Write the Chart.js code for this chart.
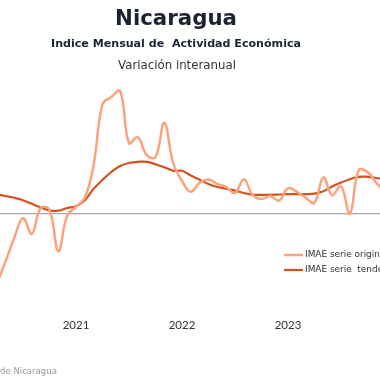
<!DOCTYPE html>
<html>
<head>
<meta charset="utf-8">
<script src="https://cdn.jsdelivr.net/npm/chart.js"></script>
<style>
html,body{margin:0;padding:0;background:#fff;}
#wrap{width:380px;height:380px;position:relative;}
</style>
</head>
<body>
<div id="wrap"><canvas id="c" width="380" height="380"></canvas></div>
<script>
const months = ['2020-04','2020-05','2020-06','2020-07','2020-08','2020-09','2020-10','2020-11','2020-12',
 '2021-01','2021-02','2021-03','2021-04','2021-05','2021-06','2021-07','2021-08','2021-09','2021-10','2021-11','2021-12',
 '2022-01','2022-02','2022-03','2022-04','2022-05','2022-06','2022-07','2022-08','2022-09','2022-10','2022-11','2022-12',
 '2023-01','2023-02','2023-03','2023-04','2023-05','2023-06','2023-07','2023-08','2023-09','2023-10','2023-11','2023-12'];
const original = [-11.8,-8.0,-4.0,-0.7,-3.3,1.0,0.7,-6.2,-0.3,
 1.2,2.7,8.2,18.3,19.5,20.5,11.8,12.8,9.8,9.5,15.2,8.5,
 5.5,3.7,5.2,5.75,5.0,4.5,3.5,5.8,3.2,2.5,3.0,2.25,
 4.3,3.7,2.7,1.9,6.1,3.1,4.7,0.0,7.3,7.0,5.2,3.7];
const trend = [3.3,3.0,2.7,2.3,1.7,1.1,0.6,0.55,1.0,
 1.3,2.3,4.2,5.7,7.0,8.0,8.5,8.7,8.7,8.3,7.8,7.2,
 7.2,6.4,5.7,5.0,4.5,4.2,3.9,3.5,3.2,3.2,3.2,3.25,
 3.3,3.3,3.3,3.4,3.8,4.6,5.25,5.8,6.2,6.2,6.0,5.8];
const yearTicks = [12, 24, 36];
const yearLabels = ['2021', '2022', '2023'];
const seriesLabels = ['IMAE serie original', 'IMAE serie  tendencia-ciclo'];

const monthIndex = months.map(s => { const [y, m] = s.split('-').map(Number); return (y - 2020) * 12 + (m - 1); });
const pts = arr => arr.map((v, i) => ({ x: monthIndex[i], y: v }));

const FONT = '"DejaVu Sans", sans-serif';
const TICKFONT = 'Lato, "DejaVu Sans", sans-serif';

function fitFont(ctx, text, weight, width) {
  ctx.font = weight + ' 20px ' + FONT;
  const w = ctx.measureText(text).width;
  const size = 20 * width / w;
  ctx.font = weight + ' ' + size.toFixed(2) + 'px ' + FONT;
}

const textPlugin = {
  id: 'texts',
  afterDraw(chart) {
    const ctx = chart.ctx;
    ctx.save();
    ctx.textAlign = 'center';
    ctx.textBaseline = 'middle';
    ctx.fillStyle = '#1c2233';
    fitFont(ctx, 'Nicaragua', 'bold', 122);
    ctx.fillText('Nicaragua', 176, 19);
    fitFont(ctx, 'Indice Mensual de  Actividad Económica', 'bold', 250);
    ctx.fillText('Indice Mensual de  Actividad Económica', 176, 44);
    ctx.fillStyle = '#333';
    fitFont(ctx, 'Variación interanual', 'normal', 118);
    ctx.fillText('Variación interanual', 177, 66);
    // footer
    ctx.textAlign = 'left';
    ctx.fillStyle = '#9a9a9a';
    fitFont(ctx, 'de Nicaragua', 'normal', 57);
    ctx.fillText('de Nicaragua', 0, 372);
    // legend
    fitFont(ctx, 'IMAE serie origin', 'normal', 75);
    ctx.fillStyle = '#333';
    chart.data.datasets.forEach((ds, i) => {
      const y = 255 + i * 15;
      ctx.strokeStyle = ds.borderColor;
      ctx.lineWidth = ds.borderWidth;
      ctx.beginPath();
      ctx.moveTo(284, y);
      ctx.lineTo(303, y);
      ctx.stroke();
      ctx.fillText(ds.label, 305, y);
    });
    ctx.restore();
  }
};

new Chart(document.getElementById('c'), {
  type: 'line',
  data: {
    datasets: [
      { label: seriesLabels[0], data: pts(original), borderColor: '#FCA27C', borderWidth: 2.5, pointRadius: 0, tension: 0.4, fill: false },
      { label: seriesLabels[1], data: pts(trend), borderColor: '#D4501F', borderWidth: 2.2, pointRadius: 0, tension: 0.4, fill: false }
    ]
  },
  options: {
    responsive: false,
    animation: false,
    events: [],
    layout: { padding: { top: 80, left: 0, right: 0, bottom: 0 } },
    plugins: { legend: { display: false }, title: { display: false }, tooltip: { enabled: false } },
    scales: {
      x: {
        type: 'linear',
        min: 30 / 8.833,
        max: 410 / 8.833,
        grid: { display: false, drawTicks: false },
        border: { display: false },
        afterBuildTicks: s => { s.ticks = yearTicks.map(v => ({ value: v })); },
        afterFit: s => { s.height = 68; },
        ticks: {
          autoSkip: false, maxRotation: 0, padding: 6,
          color: '#333', font: { family: TICKFONT, size: 11.5 },
          callback: (v) => { const i = yearTicks.indexOf(v); return i >= 0 ? yearLabels[i] : ''; }
        }
      },
      y: {
        min: -16.33,
        max: 22.33,
        afterFit: s => { s.width = 0; },
        border: { display: false },
        grid: { drawTicks: false, lineWidth: 1.3, color: c => (c.tick && c.tick.value === 0) ? '#a8a8a8' : 'rgba(0,0,0,0)' },
        ticks: { display: false, stepSize: 1 }
      }
    }
  },
  plugins: [textPlugin]
});
</script>
</body>
</html>
